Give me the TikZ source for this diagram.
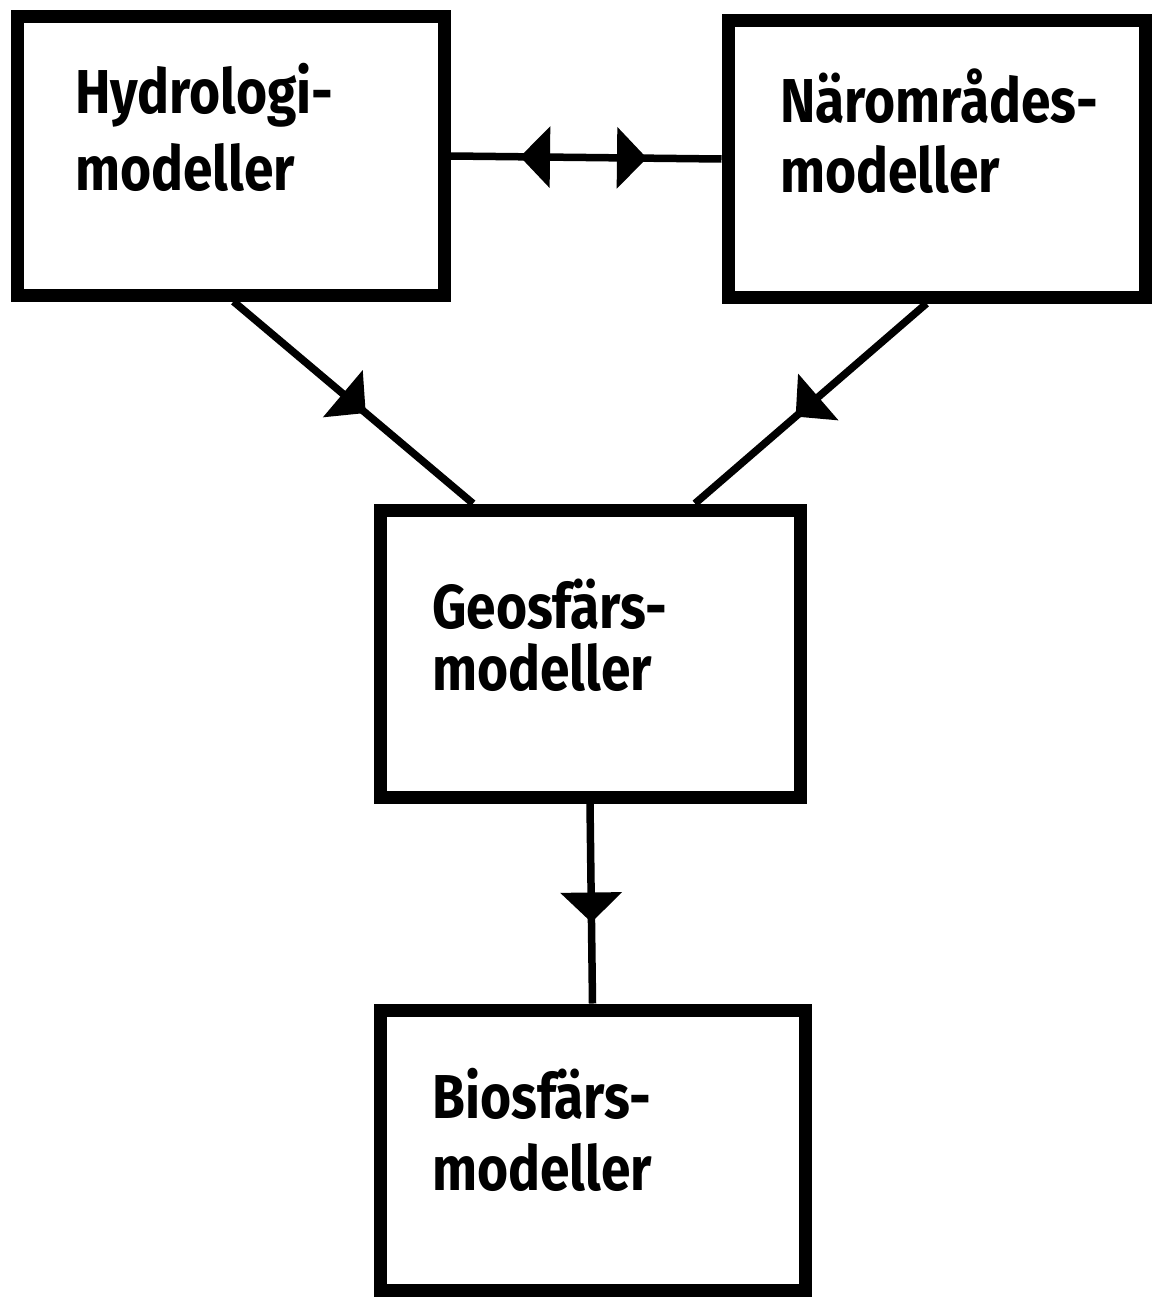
\documentclass[tikz,border=0pt]{standalone}
\usepackage{fontspec}
\newfontfamily\hand{Fira Sans}[FakeStretch=0.86]
\usetikzlibrary{arrows.meta,decorations.markings}
\begin{document}
\begin{tikzpicture}[x=1pt,y=-1pt,
  modbox/.style={draw=black,line width=13pt,fill=white,inner sep=0pt},
  lbl/.style={font=\hand\bfseries\fontsize{62}{#1}\selectfont,
    align=left,anchor=base west,inner sep=0pt},
  tri/.tip={Triangle[length=30pt,width=60pt]},
  link/.style={line width=7.5pt,postaction={decorate}},
  fwdat/.style={decoration={markings,mark=at position #1 with {\arrow{tri}}}}]

\useasboundingbox[fill=white] (0,0) rectangle (1154,1303);

% model boxes
\node[modbox,minimum width=427pt,minimum height=278pt] (hydro) at (230.5,156) {};
\node[modbox,minimum width=417pt,minimum height=276pt] (near)  at (936.5,159) {};
\node[modbox,minimum width=420pt,minimum height=287pt] (geo)   at (590,653.5) {};
\node[modbox,minimum width=425pt,minimum height=280pt] (bio)   at (592.5,1150) {};

% box labels (placed by the baseline of their last line)
\node[lbl=77pt] (hydroText) at (75,190)  {Hydrologi-\\modeller};
\node[lbl=70pt] (nearText)  at (780,192) {Närområdes-\\modeller};
\node[lbl=62pt] (geoText)   at (432,690) {Geosfärs-\\modeller};
\node[lbl=72pt] (bioText)   at (432,1190){Biosfärs-\\modeller};

% two-way link between the upper boxes
\draw[link,decoration={markings,
    mark=at position 69.5pt with {\arrowreversed{tri}},
    mark=at position 196.5pt with {\arrow{tri}}}]
  (hydro.east) -- (near.west);

% links into the geosphere box
\draw[link,fwdat=173pt] ([xshift=3pt]hydro.south) -- ([xshift=-117pt]geo.north);
\draw[link,fwdat=173pt] ([xshift=-10pt]near.south) -- ([xshift=105pt]geo.north);

% geosphere to biosphere
\draw[link,fwdat=119pt] (geo.south) -- (bio.north);
\end{tikzpicture}
\end{document}
